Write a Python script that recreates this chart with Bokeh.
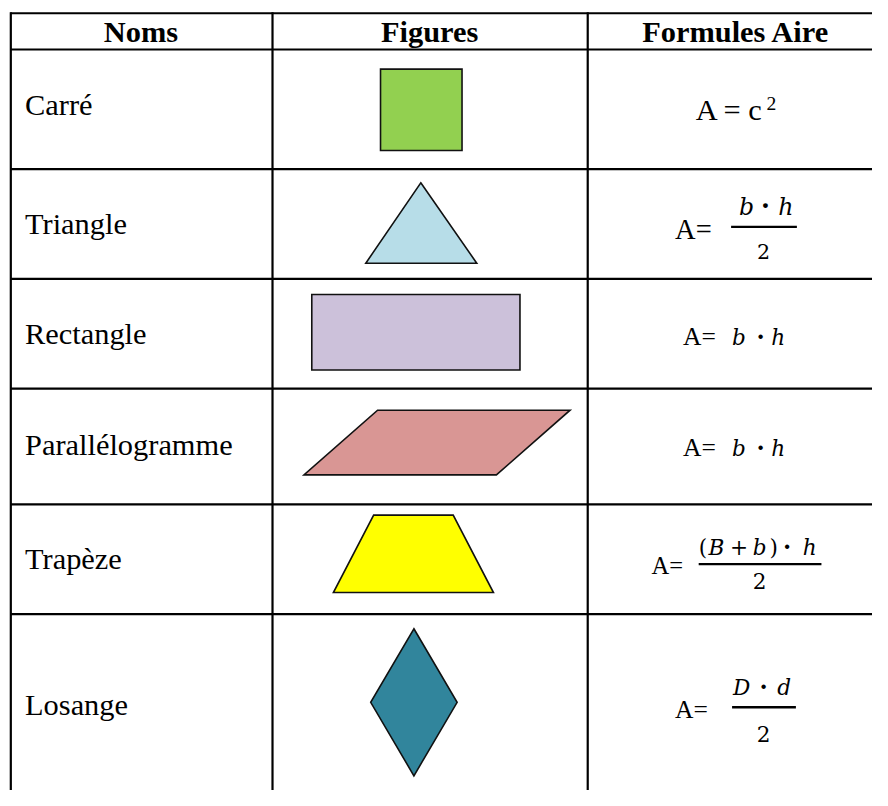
from bokeh.plotting import figure
from bokeh.models import Range1d
from bokeh.core.properties import value
from bokeh.embed import file_html
from bokeh.resources import INLINE

# ---------------- data ----------------
headers = ["Noms", "Figures", "Formules Aire"]
names = ["Carré", "Triangle", "Rectangle", "Parallélogramme", "Trapèze", "Losange"]
fill_colors = ["#92D050", "#B7DDE8", "#CCC1DA", "#D99694", "#FFFF00", "#31859C"]

# figure outlines (vertices, in table pixel units)
square_x = [387, 470, 470, 387]
square_y = [70, 70, 153, 153]
triangle_x = [428, 485, 372]
triangle_y = [186, 268, 268]
rectangle_x = [317, 529, 529, 317]
rectangle_y = [300, 300, 377, 377]
parallelogram_x = [384, 580, 505, 309]
parallelogram_y = [418, 418, 484, 484]
trapezoid_x = [380, 461, 502, 339]
trapezoid_y = [525, 525, 604, 604]
rhombus_x = [421, 465, 421, 377]
rhombus_y = [641, 716, 791, 716]

# ---------------- layout ----------------
REF_W, REF_H = 888, 806
W, H = 872, 790
S = W / REF_W  # pixel scale of the table units
SERIF = "Liberation Serif"
MATH = "DejaVu Serif"
LIFT = 0.32  # baseline correction of the svg text renderer, in em


def fs(px):
    return value(f"{px * S:.1f}px")


row_lines = [13, 50, 172, 284, 396, 514, 626]
col_lines = [10.5, 277, 598]
header_x = [143, 437, 749]
header_base = 42
name_x = 25
name_base = [117, 238, 350, 463, 580, 729]

p = figure(width=W, height=H, x_range=Range1d(0, REF_W), y_range=Range1d(REF_H, 0),
           output_backend="svg", toolbar_location=None, min_border=0,
           x_axis_location=None, y_axis_location=None)
p.grid.visible = False
p.outline_line_color = None
p.background_fill_color = "white"
p.border_fill_color = "white"

# shapes
p.patches(xs=[square_x, triangle_x, rectangle_x, parallelogram_x, trapezoid_x, rhombus_x],
          ys=[square_y, triangle_y, rectangle_y, parallelogram_y, trapezoid_y, rhombus_y],
          fill_color=fill_colors, line_color="#111111", line_width=1.6, line_join="miter")

# table lines
p.segment(x0=[10] * len(row_lines), x1=[REF_W] * len(row_lines), y0=row_lines, y1=row_lines,
          line_color="black", line_width=2.2)
p.segment(x0=col_lines, x1=col_lines, y0=[12] * len(col_lines), y1=[REF_H] * len(col_lines),
          line_color="black", line_width=2.2)

# headers
p.text(x=header_x, y=[header_base - LIFT * 31] * 3, text=headers, text_font=value(SERIF),
       text_font_size=fs(31), text_font_style="bold", text_align="center",
       text_baseline="alphabetic", text_color="black")

# names
p.text(x=[name_x] * len(names), y=[b - LIFT * 31 for b in name_base], text=names,
       text_font=value(SERIF), text_font_size=fs(31), text_align="left",
       text_baseline="alphabetic", text_color="black")


def tok(x, y, t, font=SERIF, size=24, style="normal", align="left"):
    p.text(x=[x], y=[y - LIFT * size], text=[t], text_font=value(font), text_font_size=fs(size),
           text_font_style=style, text_align=align, text_baseline="alphabetic",
           text_color="black")


def bar(x0, x1, y):
    p.segment(x0=[x0], x1=[x1], y0=[y], y1=[y], line_color="black", line_width=2.4)


# Carré: A = c²
tok(708, 122, "A = c", SERIF, 31)
tok(780, 111, "2", SERIF, 20)

# Triangle: A = b·h / 2
tok(687, 243, "A=", SERIF, 29)
tok(752, 218, "b", MATH, 24, "italic")
tok(779, 218, "·", MATH, 26, "bold", "center")
tok(792, 218, "h", MATH, 24, "italic")
bar(744, 811, 231)
tok(777, 263, "2", MATH, 21, "normal", "center")

# Rectangle and Parallélogramme: A = b·h
for base in (351, 464):
    tok(695, base, "A=", SERIF, 26)
    tok(745, base, "b", MATH, 22, "italic")
    tok(774, base, "·", MATH, 24, "bold", "center")
    tok(785, base, "h", MATH, 22, "italic")

# Trapèze: A = (B+b)·h / 2
tok(663, 584, "A=", SERIF, 25)
tok(711, 565, "(", MATH, 22)
tok(721, 565, "B", MATH, 22, "italic")
tok(743, 565, "+", MATH, 22)
tok(766, 565, "b", MATH, 22, "italic")
tok(783, 565, ")", MATH, 22)
tok(801, 565, "·", MATH, 24, "bold", "center")
tok(817, 565, "h", MATH, 22, "italic")
bar(711, 836, 575)
tok(773, 599, "2", MATH, 22, "normal", "center")

# Losange: A = D·d / 2
tok(687, 732, "A=", SERIF, 26)
tok(746, 708, "D", MATH, 22, "italic")
tok(777, 708, "·", MATH, 24, "bold", "center")
tok(791, 708, "d", MATH, 22, "italic")
bar(745, 810, 721)
tok(777, 755, "2", MATH, 22, "normal", "center")

open("out.html", "w").write(file_html(p, INLINE))
